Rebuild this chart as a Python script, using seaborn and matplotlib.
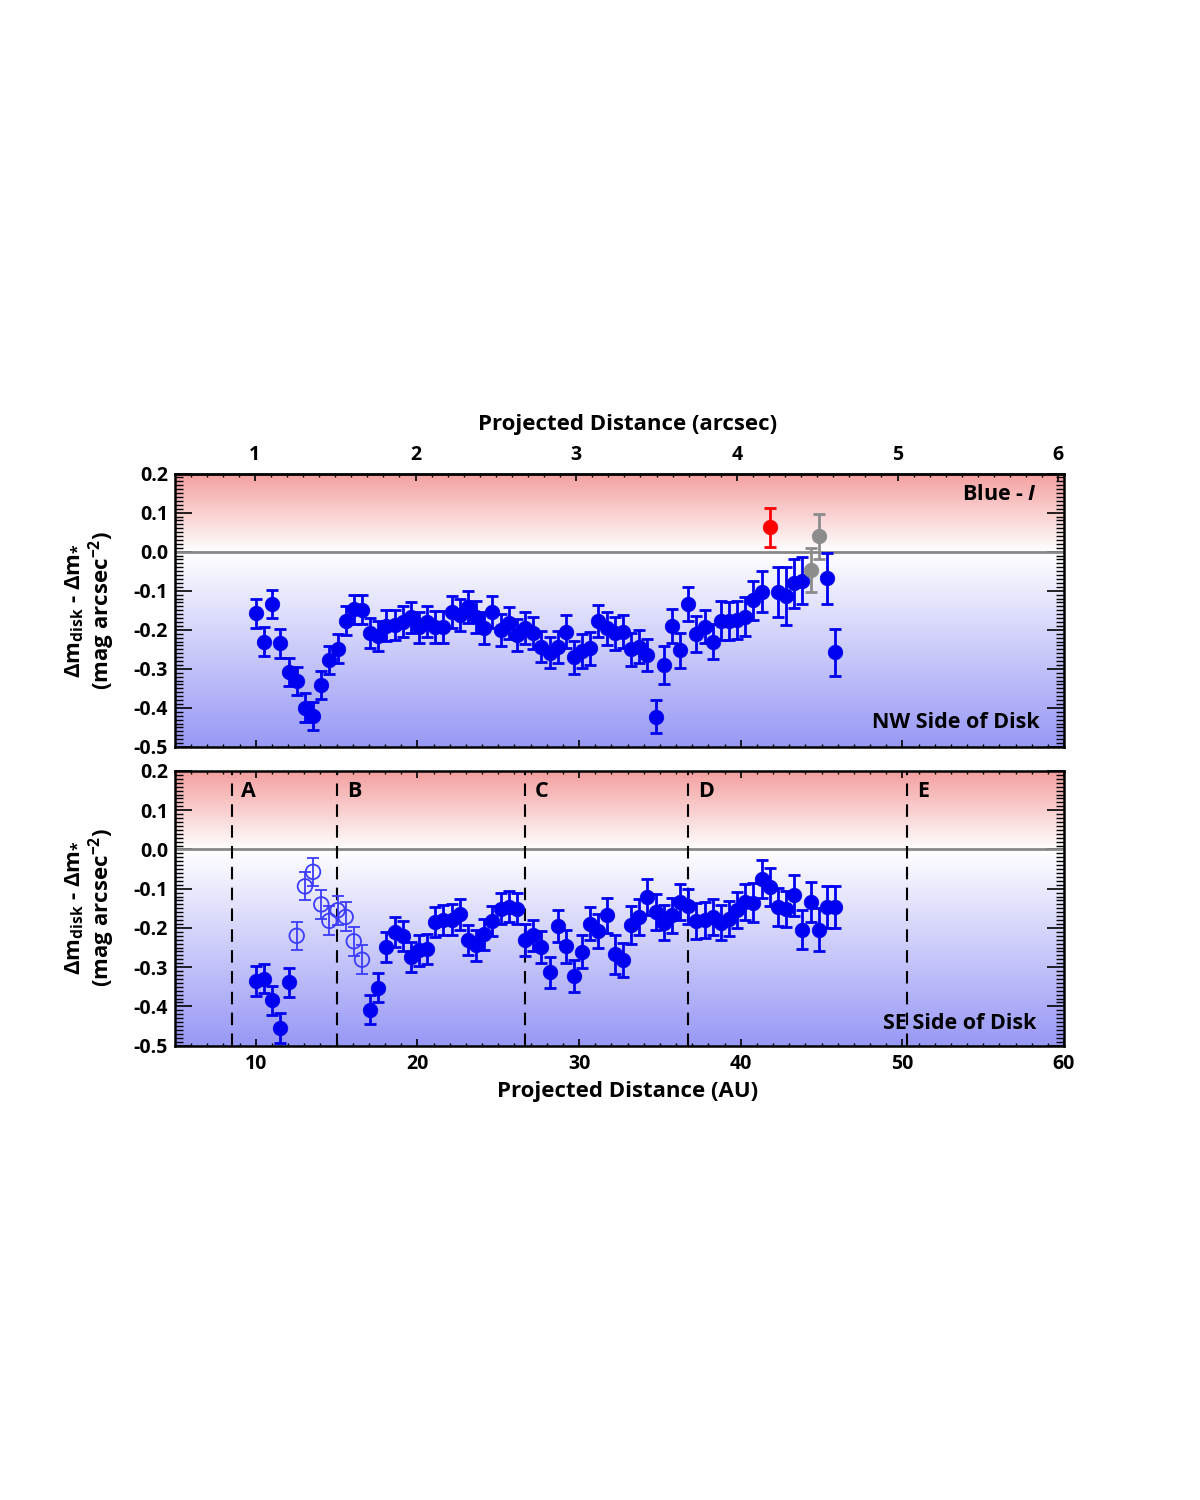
import numpy as np
import pandas as pd
import matplotlib
matplotlib.use("Agg")
import matplotlib.pyplot as plt
import seaborn as sns
from matplotlib.colors import LinearSegmentedColormap
from matplotlib.ticker import MultipleLocator, FixedLocator

# AU per arcsec used for the top axis
au_per_arcsec = 9.94

# projected distance of each sample (AU), shared by both sides
x_au = [10.01, 10.51, 11.02, 11.52, 12.03, 12.53, 13.04, 13.54, 14.05, 14.55,
        15.06, 15.56, 16.06, 16.57, 17.07, 17.58, 18.08, 18.59, 19.09, 19.60,
        20.10, 20.60, 21.11, 21.61, 22.12, 22.62, 23.13, 23.63, 24.14, 24.64,
        25.15, 25.65, 26.15, 26.66, 27.16, 27.67, 28.17, 28.68, 29.18, 29.69,
        30.19, 30.69, 31.20, 31.70, 32.21, 32.71, 33.22, 33.72, 34.23, 34.73,
        35.24, 35.74, 36.24, 36.75, 37.25, 37.76, 38.26, 38.77, 39.27, 39.78,
        40.28, 40.78, 41.29, 41.79, 42.30, 42.80, 43.31, 43.81, 44.32, 44.82,
        45.33, 45.83]

# NW side: colour difference and 1-sigma error
nw_dm = [-0.158, -0.230, -0.134, -0.235, -0.308, -0.330, -0.399, -0.420, -0.341, -0.277,
         -0.249, -0.177, -0.147, -0.149, -0.209, -0.215, -0.189, -0.188, -0.179, -0.168,
         -0.194, -0.179, -0.194, -0.194, -0.154, -0.162, -0.142, -0.168, -0.196, -0.154,
         -0.200, -0.182, -0.213, -0.196, -0.209, -0.243, -0.259, -0.245, -0.205, -0.270,
         -0.254, -0.247, -0.177, -0.196, -0.209, -0.205, -0.250, -0.243, -0.264, -0.422,
         -0.290, -0.190, -0.252, -0.134, -0.211, -0.192, -0.230, -0.177, -0.177, -0.175,
         -0.166, -0.124, -0.102, 0.062, -0.102, -0.113, -0.081, -0.074, -0.047, 0.039,
         -0.068, -0.258]
nw_err = [0.038, 0.038, 0.037, 0.036, 0.036, 0.036, 0.037, 0.036, 0.036, 0.036,
          0.037, 0.037, 0.037, 0.037, 0.038, 0.038, 0.039, 0.039, 0.040, 0.040,
          0.040, 0.040, 0.041, 0.041, 0.041, 0.041, 0.041, 0.041, 0.041, 0.041,
          0.041, 0.041, 0.041, 0.041, 0.041, 0.040, 0.040, 0.041, 0.042, 0.042,
          0.043, 0.042, 0.041, 0.042, 0.042, 0.042, 0.042, 0.042, 0.041, 0.043,
          0.048, 0.044, 0.045, 0.043, 0.047, 0.043, 0.046, 0.050, 0.048, 0.048,
          0.051, 0.050, 0.052, 0.051, 0.064, 0.075, 0.062, 0.060, 0.056, 0.057,
          0.065, 0.061]
nw_red = [63]
nw_gray = [68, 69]

# SE side
se_dm = [-0.335, -0.329, -0.384, -0.455, -0.338, -0.220, -0.094, -0.057, -0.140, -0.182,
         -0.155, -0.172, -0.234, -0.281, -0.408, -0.352, -0.248, -0.210, -0.220, -0.274,
         -0.257, -0.254, -0.185, -0.180, -0.179, -0.165, -0.231, -0.244, -0.216, -0.182,
         -0.151, -0.146, -0.151, -0.231, -0.219, -0.248, -0.313, -0.195, -0.247, -0.322,
         -0.261, -0.189, -0.208, -0.168, -0.267, -0.282, -0.193, -0.172, -0.121, -0.159,
         -0.187, -0.168, -0.134, -0.145, -0.182, -0.180, -0.172, -0.187, -0.176, -0.155,
         -0.134, -0.136, -0.075, -0.095, -0.146, -0.152, -0.117, -0.204, -0.134, -0.204,
         -0.146, -0.146]
se_err = [0.038, 0.038, 0.037, 0.037, 0.037, 0.036, 0.036, 0.036, 0.036, 0.037,
          0.037, 0.037, 0.037, 0.037, 0.038, 0.038, 0.038, 0.038, 0.038, 0.039,
          0.039, 0.039, 0.039, 0.039, 0.039, 0.039, 0.039, 0.040, 0.040, 0.039,
          0.039, 0.039, 0.039, 0.040, 0.040, 0.041, 0.040, 0.041, 0.042, 0.040,
          0.042, 0.043, 0.044, 0.044, 0.050, 0.044, 0.048, 0.045, 0.045, 0.045,
          0.045, 0.045, 0.046, 0.045, 0.045, 0.045, 0.045, 0.045, 0.045, 0.046,
          0.045, 0.050, 0.048, 0.049, 0.048, 0.046, 0.053, 0.050, 0.052, 0.054,
          0.054, 0.054]
se_open = [5, 6, 7, 8, 9, 10, 11, 12, 13]

# disk regions marked on the SE panel
region_au = [8.51, 15.05, 26.63, 36.75, 50.3]
region_names = ["A", "B", "C", "D", "E"]

arcsec_ticks = [1, 2, 3, 4, 5, 6]

xlim = (5, 60)
ylim = (-0.5, 0.2)

sns.set_theme(style="ticks")
plt.rcParams["font.family"] = ["Open Sans", "DejaVu Sans"]
plt.rcParams["font.weight"] = "bold"
plt.rcParams["mathtext.fontset"] = "custom"
plt.rcParams["mathtext.rm"] = "Open Sans:bold"
plt.rcParams["mathtext.it"] = "Open Sans:italic:bold"
plt.rcParams["mathtext.default"] = "rm"
for key in ["text.color", "axes.labelcolor", "xtick.color", "ytick.color"]:
    plt.rcParams[key] = "black"

BLUE = "#0000f0"
OPEN_BLUE = "#3c3cff"

bg_cmap = LinearSegmentedColormap.from_list(
    "redwhiteblue", [(0.0, "#9898f6"), (5 / 7, "#ffffff"), (1.0, "#f4a0a0")])


def make_df(dm, err, kinds):
    df = pd.DataFrame({"au": x_au, "dm": dm, "err": err})
    df["kind"] = "blue"
    for k, idx in kinds.items():
        df.loc[idx, "kind"] = k
    return df


def style_panel(ax):
    grad = np.linspace(0, 1, 256).reshape(-1, 1)
    ax.imshow(grad, cmap=bg_cmap, origin="lower", aspect="auto",
              extent=[xlim[0], xlim[1], ylim[0], ylim[1]], zorder=0)
    ax.axhline(0, color="#888888", lw=2, zorder=1)
    ax.set_xlim(*xlim)
    ax.set_ylim(*ylim)
    ax.xaxis.set_major_locator(MultipleLocator(10))
    ax.xaxis.set_minor_locator(MultipleLocator(1))
    ax.yaxis.set_major_locator(MultipleLocator(0.1))
    ax.yaxis.set_minor_locator(MultipleLocator(0.01))
    ax.yaxis.set_major_formatter(plt.FuncFormatter(lambda v, p: f"{v:.1f}"))
    ax.tick_params(axis="x", which="major", direction="in", length=5, width=1.2,
                   labelsize=14, pad=6, top=True, bottom=True)
    ax.tick_params(axis="x", which="minor", direction="in", length=2.5, width=1.0,
                   top=True, bottom=True)
    ax.tick_params(axis="y", which="major", direction="in", length=12, width=1.2,
                   labelsize=14, pad=5, left=True, right=True)
    ax.tick_params(axis="y", which="minor", direction="in", length=6, width=1.0,
                   left=True, right=True)
    for s in ax.spines.values():
        s.set_linewidth(1.8)
        s.set_color("black")
        s.set_zorder(5)


def draw_points(ax, df):
    colors = {"blue": BLUE, "red": "#ff0000", "gray": "#8c8c8c"}
    for kind in ["blue", "red", "gray"]:
        sub = df[df["kind"] == kind]
        if sub.empty:
            continue
        ax.errorbar(sub["au"], sub["dm"], yerr=sub["err"], fmt="none",
                    ecolor=colors[kind], elinewidth=2, capsize=4, capthick=2, zorder=3)
        sns.scatterplot(data=sub, x="au", y="dm", color=colors[kind], s=110,
                        edgecolor=colors[kind], linewidth=0.5, ax=ax, zorder=4, legend=False)
    sub = df[df["kind"] == "open"]
    if not sub.empty:
        ax.errorbar(sub["au"], sub["dm"], yerr=sub["err"], fmt="none",
                    ecolor=OPEN_BLUE, elinewidth=1.3, capsize=4, capthick=1.3, zorder=3)
        sns.scatterplot(data=sub, x="au", y="dm", s=110, facecolors="none",
                        edgecolor=OPEN_BLUE, linewidth=1.3, ax=ax, zorder=4, legend=False)
    # seaborn puts the column names on the axes; the figure uses its own titles
    ax.set_xlabel("")
    ax.set_ylabel("")


fig = plt.figure(figsize=(12, 15), dpi=100)
ax_top = fig.add_axes([0.14583, 0.5020, 0.74083, 0.1823])
ax_bot = fig.add_axes([0.14583, 0.3029, 0.74083, 0.1831])

# --- NW panel --- #
style_panel(ax_top)
ax_top.tick_params(axis="x", which="both", top=False, labelbottom=False)
draw_points(ax_top, make_df(nw_dm, nw_err, {"red": nw_red, "gray": nw_gray}))

sec = ax_top.secondary_xaxis("top", functions=(lambda a: a / au_per_arcsec,
                                               lambda s: s * au_per_arcsec))
sec.xaxis.set_major_locator(FixedLocator(arcsec_ticks))
sec.xaxis.set_minor_locator(MultipleLocator(0.1))
sec.tick_params(axis="x", which="major", direction="in", length=5, width=1.2,
                labelsize=14, pad=6)
sec.tick_params(axis="x", which="minor", direction="in", length=2.5, width=1.0)
sec.spines["top"].set_linewidth(1.8)

ax_top.text(0.970, 0.925, r"Blue - $\mathit{I}$", transform=ax_top.transAxes,
            ha="right", va="center", fontsize=15.5, zorder=6)
ax_top.text(0.973, 0.088, "NW Side of Disk", transform=ax_top.transAxes,
            ha="right", va="center", fontsize=15.5, zorder=6)

# --- SE panel --- #
style_panel(ax_bot)
draw_points(ax_bot, make_df(se_dm, se_err, {"open": se_open}))
for xr, name in zip(region_au, region_names):
    ax_bot.axvline(xr, color="black", lw=1.5, ls=(0, (6, 4)), zorder=2)
    ax_bot.text(xr + 0.6, 0.927, name, transform=ax_bot.get_xaxis_transform(),
                ha="left", va="center", fontsize=15.5, zorder=6)
ax_bot.text(0.9685, 0.079, "SE Side of Disk", transform=ax_bot.transAxes,
            ha="right", va="center", fontsize=15.5, zorder=6)

# axis titles
fig.text(0.523, 0.7167, "Projected Distance (arcsec)", ha="center", va="center", fontsize=16)
fig.text(0.523, 0.272, "Projected Distance (AU)", ha="center", va="center", fontsize=16)
ylab = "$\\Delta$m$_{\\rm disk}$ - $\\Delta$m$_{*}$\n(mag arcsec$^{-2}$)"
fig.text(0.075, 0.593, ylab, rotation=90, ha="center", va="center", fontsize=16,
         linespacing=1.0)
fig.text(0.075, 0.3947, ylab, rotation=90, ha="center", va="center", fontsize=16,
         linespacing=1.0)

fig.savefig("out.png", dpi=100)
